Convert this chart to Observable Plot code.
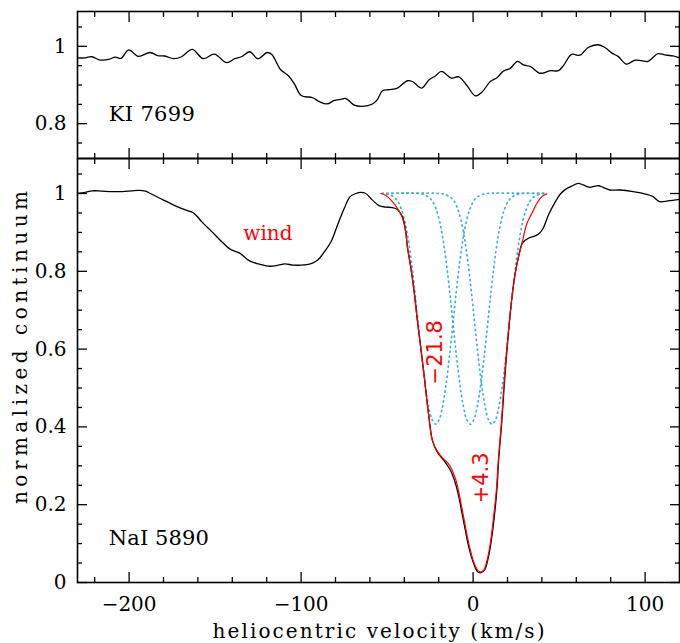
<!DOCTYPE html>
<html><head><meta charset="utf-8">
<script src="https://cdn.jsdelivr.net/npm/d3@7"></script>
<script src="https://cdn.jsdelivr.net/npm/@observablehq/plot@0.6"></script>
<style>
html,body{margin:0;padding:0;background:#fff;}
#chart{position:relative;width:680px;height:643px;overflow:hidden;background:#fff;}
#top,#bottom{position:absolute;left:0;}
#top{top:0;z-index:2;}
#bottom{top:156px;z-index:1;}
</style></head>
<body><div id="chart"><div id="top"></div><div id="bottom"></div></div>
<script>
// ---------- axes / tick values ----------
const xDomain = [-230, 120];
const xMajorTicks = [-200, -100, 0, 100];
const xMinorTicks = [-220, -180, -160, -140, -120, -80, -60, -40, -20, 20, 40, 60, 80];
const kiYDomain = [0.71, 1.09];
const kiYMajor = [0.8, 1];
const kiYMinor = [0.75, 0.85, 0.9, 0.95, 1.05];
const naYDomain = [0, 1.09];
const naYMajor = [0, 0.2, 0.4, 0.6, 0.8, 1];
const naYMinor = [0.05, 0.1, 0.15, 0.25, 0.3, 0.35, 0.45, 0.5, 0.55, 0.65, 0.7, 0.75, 0.85, 0.9, 0.95, 1.05];

// ---------- KI 7699 spectrum ----------
const kiVel = [-230,-226.2,-221.6,-217.4,-211.9,-208.1,-204.6,-200.3,-194.6,-187.8,-183.4,-179.2,-174.3,-169.5,-163.3,-156.9,-150.5,-143.3,-138.6,-134.7,-129.9,-125.1,-119.7,-117.0,-112.0,-107.4,-103.9,-100.0,-93.2,-89.4,-84.9,-80.7,-76.8,-73.9,-69.1,-64.3,-58.5,-55.6,-52.7,-48.9,-44.0,-38.2,-35.3,-29.9,-25.7,-21.8,-18.4,-12.6,-8.3,-3.5,1.3,5.2,10.0,13.9,17.7,21.6,25.8,29.3,33.2,38.4,40.9,44.8,49.6,52.5,57.3,62.1,66.9,72.7,76.6,80.5,84.3,89.2,94.0,97.9,101.7,107.5,111.4,116.2,120];
const kiFlux = [0.970,0.970,0.973,0.965,0.966,0.972,0.969,0.991,0.974,0.984,0.976,0.975,0.968,0.973,0.992,0.968,0.980,0.958,0.968,0.973,0.986,0.968,0.984,0.979,0.940,0.924,0.903,0.873,0.867,0.857,0.851,0.860,0.863,0.865,0.848,0.845,0.851,0.863,0.885,0.888,0.892,0.911,0.909,0.892,0.913,0.924,0.935,0.918,0.921,0.898,0.872,0.882,0.909,0.919,0.936,0.943,0.961,0.952,0.948,0.931,0.931,0.937,0.937,0.950,0.979,0.977,0.997,1.004,0.997,0.983,0.974,0.954,0.964,0.963,0.961,0.981,0.978,0.975,0.970];

// ---------- NaI 5890 spectrum ----------
const naVel = [-230,-225.6,-221.4,-215.6,-209.8,-204,-198.3,-194.4,-190.5,-187.6,-182.8,-178,-173.1,-167.3,-162.5,-157.7,-151.9,-146.1,-141.3,-135.5,-129.7,-123.9,-118.1,-113.3,-109.4,-104.6,-100,-94.2,-90.3,-86.5,-82.6,-78.8,-74.9,-71.5,-68.2,-65.3,-62.4,-58.5,-54.7,-50.8,-46.9,-44,-41.1,-39.2,-38.2,-36.3,-34.4,-32.4,-30.5,-28.6,-27,-25.7,-23.7,-20.8,-17,-13.1,-10.2,-8.3,-6.4,-4.5,-2.5,0.4,2.5,4.2,6.5,8.9,10.6,12.3,13.8,15,16.6,17.9,18.9,20.7,22.6,24.5,26.4,28.2,29.3,32.2,36.1,38.6,40.9,43.8,47.7,50.6,53.5,57.3,61.2,64,67.9,72.7,75.6,79.5,85.3,93,100.8,104.6,108.5,113.3,120];
const naFlux = [1.000,1.003,1.007,1.006,1.005,1.005,1.007,1.008,1.006,1.000,0.989,0.979,0.968,0.958,0.950,0.927,0.902,0.876,0.857,0.846,0.826,0.818,0.813,0.816,0.819,0.816,0.816,0.820,0.829,0.850,0.876,0.919,0.962,0.992,1.000,1.003,1.000,0.983,0.969,0.965,0.964,0.959,0.940,0.902,0.863,0.812,0.752,0.674,0.606,0.537,0.473,0.426,0.366,0.335,0.314,0.288,0.254,0.220,0.177,0.134,0.091,0.048,0.028,0.025,0.031,0.065,0.108,0.168,0.237,0.323,0.408,0.494,0.554,0.649,0.734,0.795,0.837,0.868,0.876,0.885,0.891,0.898,0.912,0.945,0.978,0.998,1.010,1.019,1.026,1.022,1.016,1.020,1.016,1.009,1.009,1.005,0.998,0.992,0.979,0.981,0.985];

// ---------- fitted model (red) ----------
const fitVel = [-53.6,-51.5,-49.8,-46.9,-44,-41.1,-39.2,-38.2,-36.3,-34.4,-32.4,-30.5,-28.6,-27,-25.7,-23.7,-20.8,-17.5,-14.5,-12.5,-10.2,-8.3,-6.4,-4.5,-2.5,0.4,2.7,4.2,6.1,8.1,10,11.9,13.5,14.8,16.4,17.7,18.7,20.6,22.6,24.5,26.4,28.4,31.3,34.2,37.1,40,42.8];
const fitFlux = [1.0,0.997,0.992,0.979,0.962,0.937,0.902,0.863,0.812,0.752,0.674,0.606,0.537,0.473,0.426,0.366,0.337,0.319,0.306,0.292,0.266,0.232,0.189,0.145,0.100,0.052,0.031,0.027,0.031,0.057,0.100,0.168,0.237,0.323,0.408,0.494,0.554,0.649,0.734,0.795,0.837,0.872,0.923,0.949,0.975,0.992,0.999];

// ---------- individual components (dotted) ----------
const compNames = ["c1", "c2", "c3"];
const compCenters = [-21.8, -1.6, 11.0];
const compRange = [-53, 42];
const compOffsets = [-30,-27,-24,-22,-20,-18,-16,-14,-12,-10,-8,-6,-4,-2,0,2,4,6,8,10,12,14,16,18,20,22,24,27,30];
const compProfile = [1.0,0.997,0.99,0.98,0.961,0.931,0.885,0.823,0.747,0.662,0.579,0.507,0.452,0.418,0.407,0.418,0.452,0.507,0.579,0.662,0.747,0.823,0.885,0.931,0.961,0.98,0.99,0.997,1.0];

// ---------- labels ----------
const kiLabel = ["KI 7699"];
const naLabel = ["NaI 5890"];
const windLabel = ["wind"];
const compLabels = ["\u221221.8", "+4.3"];
const xTitle = ["heliocentric velocity (km/s)"];
const yTitle = ["normalized continuum"];

// ---------- build tables ----------
const kiData = kiVel.map((v, i) => ({v, f: kiFlux[i]}));
const naData = naVel.map((v, i) => ({v, f: naFlux[i]}));
const fitData = fitVel.map((v, i) => ({v, f: fitFlux[i]}));
const compData = [];
compCenters.forEach((c, k) => {
  compData.push({comp: compNames[k], v: compRange[0], f: 1});
  compOffsets.forEach((o, i) => {
    const v = c + o;
    if (v > compRange[0] && v < compRange[1]) compData.push({comp: compNames[k], v, f: compProfile[i]});
  });
  compData.push({comp: compNames[k], v: compRange[1], f: 1});
});

const SERIF = "DejaVu Serif";
const SANS = "DejaVu Sans";
const TICKW = 1.3;

function frameTicks(yMajor, yMinor) {
  const m = [];
  for (const anchor of ["top", "bottom"]) {
    m.push(Plot.axisX({anchor, ticks: xMajorTicks, tickSize: -10, fill: "none", stroke: "black", strokeWidth: TICKW, label: null}));
    m.push(Plot.axisX({anchor, ticks: xMinorTicks, tickSize: -5, fill: "none", stroke: "black", strokeWidth: TICKW, label: null}));
  }
  for (const anchor of ["left", "right"]) {
    m.push(Plot.axisY({anchor, ticks: yMajor, tickSize: -10, fill: "none", stroke: "black", strokeWidth: TICKW, label: null}));
    m.push(Plot.axisY({anchor, ticks: yMinor, tickSize: -5, fill: "none", stroke: "black", strokeWidth: TICKW, label: null}));
  }
  return m;
}

const baseStyle = {background: "transparent", fontFamily: SERIF, fontSize: "20px", color: "black", overflow: "visible"};

const topPlot = Plot.plot({
  width: 680, height: 160,
  marginTop: 11, marginBottom: 2, marginLeft: 77, marginRight: 1,
  style: baseStyle,
  x: {domain: xDomain, axis: null},
  y: {domain: kiYDomain, axis: null},
  marks: [
    Plot.line(kiData, {x: "v", y: "f", stroke: "black", strokeWidth: 1.3, curve: "catmull-rom"}),
    ...frameTicks(kiYMajor, kiYMinor),
    Plot.axisY({anchor: "left", ticks: kiYMajor, tickSize: 0, tickPadding: 11, tickFormat: d => String(d), fill: "black", fontSize: 20, fontFamily: SERIF, label: null}),
    Plot.text(kiLabel, {text: d => d, x: -211.8, y: 0.806, textAnchor: "start", lineAnchor: "bottom", fill: "black", fontSize: 21, fontFamily: SERIF}),
    Plot.frame({stroke: "black", strokeWidth: 1.6})
  ]
});

const bottomPlot = Plot.plot({
  width: 680, height: 487,
  marginTop: 2, marginBottom: 61, marginLeft: 77, marginRight: 1,
  style: baseStyle,
  x: {domain: xDomain, axis: null},
  y: {domain: naYDomain, axis: null},
  marks: [
    Plot.line(compData, {x: "v", y: "f", z: "comp", stroke: "#3cb2d2", strokeWidth: 1.7, strokeDasharray: "1.2,3.8", curve: "catmull-rom"}),
    Plot.line(naData, {x: "v", y: "f", stroke: "black", strokeWidth: 1.3, curve: "catmull-rom"}),
    Plot.line(fitData, {x: "v", y: "f", stroke: "#ff0000", strokeWidth: 1.2, curve: "catmull-rom"}),
    ...frameTicks(naYMajor, naYMinor),
    Plot.axisY({anchor: "left", ticks: naYMajor, tickSize: 0, tickPadding: 11, tickFormat: d => String(d), fill: "black", fontSize: 20, fontFamily: SERIF, label: null}),
    Plot.axisX({anchor: "bottom", ticks: xMajorTicks, tickSize: 0, tickPadding: 14, tickFormat: d3.format("d"), fill: "black", fontSize: 20, fontFamily: SERIF, label: null}),
    Plot.text(naLabel, {text: d => d, x: -211.8, y: 0.097, textAnchor: "start", lineAnchor: "bottom", fill: "black", fontSize: 21, fontFamily: SERIF}),
    Plot.text(windLabel, {text: d => d, x: -119.3, y: 0.880, textAnchor: "middle", lineAnchor: "bottom", fill: "#ff0000", fontSize: 20, fontFamily: SERIF}),
    Plot.text([compLabels[0]], {text: d => d, x: -21.8, y: 0.592, rotate: -90, textAnchor: "middle", lineAnchor: "middle", fill: "#ff0000", fontSize: 21, fontFamily: SANS}),
    Plot.text([compLabels[1]], {text: d => d, x: 4.5, y: 0.269, rotate: -90, textAnchor: "middle", lineAnchor: "middle", fill: "#ff0000", fontSize: 21, fontFamily: SANS}),
    Plot.text(xTitle, {text: d => d, frameAnchor: "bottom", dy: 55, textAnchor: "middle", lineAnchor: "bottom", fill: "black", fontSize: 20, fontFamily: SERIF}),
    Plot.text(yTitle, {text: d => d, frameAnchor: "left", dx: -51, dy: -23, rotate: -90, textAnchor: "middle", lineAnchor: "bottom", fill: "black", fontSize: 20, fontFamily: SERIF}),
    Plot.frame({stroke: "black", strokeWidth: 1.6})
  ]
});

function fitText(svg, str, len) {
  d3.select(svg).selectAll("text")
    .filter(function () { return this.textContent === str; })
    .attr("textLength", len).attr("lengthAdjust", "spacing");
}
fitText(bottomPlot, xTitle[0], 332);
fitText(bottomPlot, yTitle[0], 313);
fitText(topPlot, kiLabel[0], 86);
fitText(bottomPlot, naLabel[0], 100);

document.getElementById("top").appendChild(topPlot);
document.getElementById("bottom").appendChild(bottomPlot);
</script>
</body></html>
